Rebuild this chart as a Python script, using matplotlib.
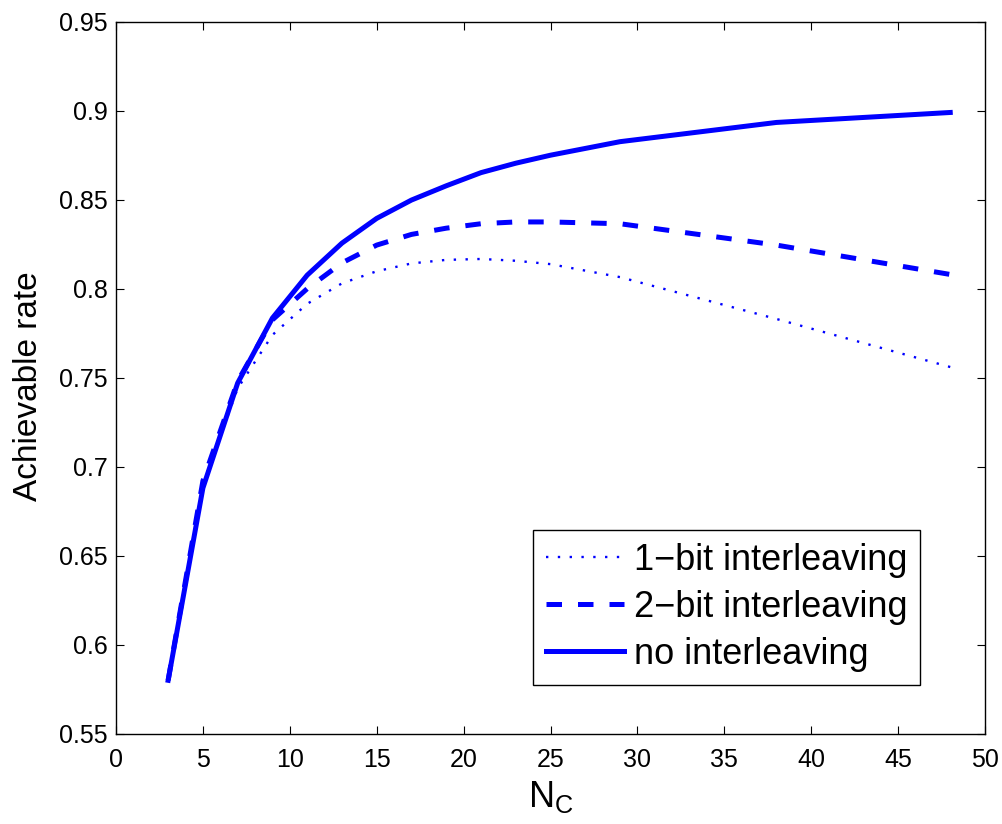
import matplotlib
matplotlib.use("Agg")
import matplotlib.pyplot as plt

plt.rcParams['font.family'] = ['Liberation Sans', 'DejaVu Sans']
plt.rcParams['mathtext.fontset'] = 'custom'
plt.rcParams['mathtext.rm'] = 'Liberation Sans'
plt.rcParams['mathtext.it'] = 'Liberation Sans'

# Number of coded chunks N_C
n_c = [3, 5, 7, 9, 11, 13, 15, 17, 19, 21, 23, 25, 29, 38, 48]

rate_1bit = [0.580, 0.690, 0.744, 0.774, 0.7915, 0.803, 0.8098, 0.8142, 0.8162,
             0.8167, 0.8157, 0.8138, 0.8065, 0.783, 0.756]
rate_2bit = [0.580, 0.692, 0.748, 0.7825, 0.800, 0.8145, 0.8245, 0.8305, 0.834,
             0.8365, 0.8375, 0.8375, 0.8365, 0.8245, 0.808]
rate_none = [0.580, 0.688, 0.747, 0.7835, 0.8076, 0.8256, 0.8395, 0.8498, 0.8578,
             0.8652, 0.8705, 0.875, 0.8826, 0.8934, 0.899]

labels = ['1\u2212bit interleaving', '2\u2212bit interleaving', 'no interleaving']

fig = plt.figure(figsize=(10.02, 8.24), dpi=100)
ax = fig.add_axes([116 / 1002, 1 - 733.7 / 824, (985 - 116) / 1002, (733.7 - 21.7) / 824])

blue = '#0000ff'
ax.plot(n_c, rate_1bit, color=blue, lw=1.7, linestyle=(0, (1.0, 4.0)), label=labels[0])
ax.plot(n_c, rate_2bit, color=blue, lw=3.6, linestyle=(0, (3.1, 3.2)), label=labels[1])
ax.plot(n_c, rate_none, color=blue, lw=3.6, linestyle='-', label=labels[2])

ax.set_xlim(0, 50)
ax.set_ylim(0.55, 0.95)
ax.set_xticks(range(0, 51, 5))
ax.set_yticks([0.55, 0.6, 0.65, 0.7, 0.75, 0.8, 0.85, 0.9, 0.95])
ax.set_yticklabels(['0.55', '0.6', '0.65', '0.7', '0.75', '0.8', '0.85', '0.9', '0.95'])

ax.tick_params(direction='in', length=6, width=0.8, colors='black', labelsize=18,
               top=True, right=True)
ax.tick_params(axis='x', pad=10)
ax.tick_params(axis='y', pad=6)
for s in ax.spines.values():
    s.set_linewidth(1.0)
    s.set_color('black')

ax.set_xlabel(r'$\mathregular{N_C}$', fontsize=26, labelpad=5)
ax.set_ylabel('Achievable rate', fontsize=24)
ax.yaxis.set_label_coords(-0.083, 0.488)

leg = ax.legend(loc='upper left', bbox_to_anchor=(0.480, 0.286), borderaxespad=0,
                fontsize=26, frameon=True, fancybox=False, framealpha=1,
                edgecolor='black', handlelength=2.15, handletextpad=0.28,
                borderpad=0.36, labelspacing=0.33)
leg.get_frame().set_linewidth(1.0)

fig.savefig('out.png', dpi=100)
